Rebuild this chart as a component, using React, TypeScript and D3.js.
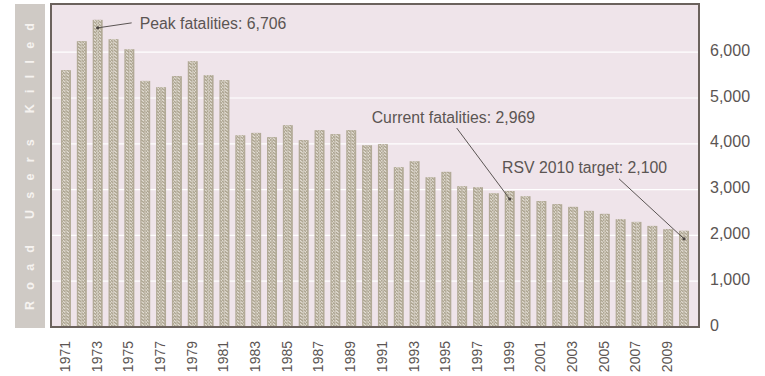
import * as d3 from "d3";
import React from "react";

// road users killed per year
const years = [
  1971, 1972, 1973, 1974, 1975, 1976, 1977, 1978, 1979, 1980,
  1981, 1982, 1983, 1984, 1985, 1986, 1987, 1988, 1989, 1990,
  1991, 1992, 1993, 1994, 1995, 1996, 1997, 1998, 1999, 2000,
  2001, 2002, 2003, 2004, 2005, 2006, 2007, 2008, 2009, 2010,
];
const fatalities = [
  5607, 6240, 6706, 6284, 6066, 5373, 5236, 5476, 5803, 5498,
  5389, 4186, 4238, 4144, 4406, 4079, 4297, 4210, 4297, 3969,
  3991, 3490, 3620, 3271, 3387, 3074, 3052, 2921, 2969, 2856,
  2750, 2681, 2623, 2535, 2470, 2354, 2295, 2207, 2135, 2100,
];
const yTicks = [0, 1000, 2000, 3000, 4000, 5000, 6000];
const yearLabels = years.filter((_, i) => i % 2 === 0);

const noteYears = [1973, 1999, 2010];
const noteTexts = ["Peak fatalities: 6,706", "Current fatalities: 2,969", "RSV 2010 target: 2,100"];
const axisTitle = "Road Users Killed";

const W = 765;
const H = 376;
const plot = { left: 51, right: 699, top: 4, bottom: 327 };
const font = "'Liberation Sans', Arial, Helvetica, sans-serif";
const textCol = "#5b5553";

// offsets of line end and text from the dot, per note
const noteLayout = [
  { lx: 34, ly: -5, tx: 42, ty: -4 },
  { lx: -53, ly: -71, tx: -138, ty: -82 },
  { lx: -65, ly: -60, tx: -182, ty: -71 },
];

export default function App() {
  const x = d3
    .scaleBand<number>()
    .domain(years)
    .range([plot.left, plot.right])
    .paddingInner(0.37)
    .paddingOuter(0.63);
  const y = d3.scaleLinear().domain([0, 7000]).range([327, 6.4]);
  const bw = x.bandwidth();
  const fmt = d3.format(",");

  return (
    <svg
      width={W}
      height={H}
      style={{ position: "absolute", left: 0, top: 0, background: "#fff" }}
      fontFamily={font}
    >
      <defs>
        <pattern id="rope" width="3" height="3.2" patternUnits="userSpaceOnUse">
          <rect width="3" height="3.2" fill="#aba38e" />
          <path d="M0,0.3 L3,2.7" stroke="#f0ebe5" strokeWidth="1" />
        </pattern>
      </defs>

      {/* left title band */}
      <rect x={15} y={plot.top} width={30} height={plot.bottom - plot.top + 1} fill="#cfcac5" />
      <text
        transform={`translate(30,${(plot.top + plot.bottom) / 2 + 1}) rotate(-90)`}
        textAnchor="middle"
        dominantBaseline="central"
        fill="#f6f3f0"
        fontWeight="bold"
        fontSize={12.5}
        textLength={287}
        lengthAdjust="spacing"
      >
        {axisTitle}
      </text>

      {/* plot background */}
      <rect
        x={plot.left}
        y={plot.top}
        width={plot.right - plot.left}
        height={plot.bottom - plot.top}
        fill="#efe4ea"
      />
      {yTicks.slice(1).map((t) => (
        <line key={t} x1={plot.left} x2={plot.right} y1={y(t)} y2={y(t)} stroke="#ffffff" strokeWidth={1.2} />
      ))}

      {/* bars */}
      {years.map((yr, i) => {
        const x0 = x(yr)!;
        const top = y(fatalities[i]);
        const h = plot.bottom - top;
        return (
          <g key={yr}>
            <rect x={x0} y={top} width={bw} height={h} fill="#b2aa97" />
            <rect x={x0 + 1.3} y={top} width={2.7} height={h} fill="url(#rope)" />
            <rect x={x0 + 4.6} y={top} width={0.7} height={h} fill="#d9d3c9" />
            <rect x={x0 + 5.6} y={top} width={2.7} height={h} fill="url(#rope)" />
          </g>
        );
      })}

      {/* frame */}
      <rect
        x={plot.left}
        y={plot.top}
        width={plot.right - plot.left}
        height={plot.bottom - plot.top}
        fill="none"
        stroke="#6b625d"
        strokeWidth={2}
      />

      {/* right axis labels */}
      {yTicks.map((t) => (
        <text key={t} x={710} y={y(t) - 2} dominantBaseline="central" fontSize={16} fill={textCol}>
          {fmt(t)}
        </text>
      ))}

      {/* year labels */}
      {yearLabels.map((yr) => (
        <text
          key={yr}
          transform={`translate(${x(yr)! + bw / 2 - 1},341) rotate(-90)`}
          textAnchor="end"
          dy="0.35em"
          fontSize={14}
          fill={textCol}
        >
          {yr}
        </text>
      ))}

      {/* notes */}
      {noteYears.map((yr, i) => {
        const v = fatalities[years.indexOf(yr)];
        const cx = x(yr)! + bw / 2;
        const cy = y(v) + 8;
        const l = noteLayout[i];
        return (
          <g key={yr}>
            <line x1={cx} y1={cy} x2={cx + l.lx} y2={cy + l.ly} stroke="#4a4442" strokeWidth={0.9} />
            <circle cx={cx} cy={cy} r={1.6} fill="#4a4442" />
            <text x={cx + l.tx} y={cy + l.ty} dominantBaseline="central" fontSize={15.8} fill={textCol}>
              {noteTexts[i]}
            </text>
          </g>
        );
      })}
    </svg>
  );
}
